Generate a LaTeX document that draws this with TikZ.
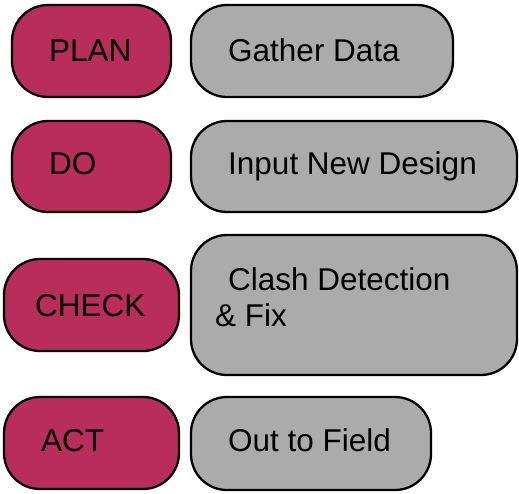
\documentclass[tikz,border=0pt]{standalone}
\usepackage{fontspec}
\setmainfont{Liberation Sans}
\definecolor{crim}{RGB}{184,45,91}
\definecolor{boxgray}{RGB}{171,171,171}
\tikzset{
  pill/.style={draw=black, line width=2.3pt, rounded corners=36pt, inner sep=0pt},
  phase/.style={pill, fill=crim},
  task/.style={pill, fill=boxgray},
  lbl/.style={anchor=base west, inner sep=0pt, font=\fontsize{31.5}{36}\selectfont, text=black}
}
\begin{document}
\begin{tikzpicture}[x=1pt,y=-1pt]
\useasboundingbox (0,0) rectangle (519,493);
% phase boxes
\node[phase, minimum width=159pt, minimum height=92pt] (plan) at (91.5,51) {};
\node[phase, minimum width=159pt, minimum height=91pt] (do) at (91.5,166.5) {};
\node[phase, minimum width=175pt, minimum height=92pt] (check) at (91.5,305) {};
\node[phase, minimum width=175pt, minimum height=92pt] (act) at (91.5,443) {};
% task boxes
\node[task, minimum width=262pt, minimum height=92pt] (gather) at (322,51) {};
\node[task, minimum width=326pt, minimum height=91pt] (input) at (354,166.5) {};
\node[task, minimum width=326pt, minimum height=140pt] (clash) at (354,305) {};
\node[task, minimum width=240pt, minimum height=93pt] (out) at (311,443.5) {};
% labels
\node[lbl] (tplan) at (49,61) {PLAN};
\node[lbl] (tdo) at (49,174) {DO};
\node[lbl] (tcheck) at (35,316) {CHECK};
\node[lbl] (tact) at (41,451) {ACT};
\node[lbl] (tgather) at (228,61) {Gather Data};
\node[lbl] (tinput) at (228,174) {Input New Design};
\node[lbl] (tclash1) at (228,290) {Clash Detection};
\node[lbl] (tclash2) at (215,326) {\& Fix};
\node[lbl] (tout) at (228,451) {Out to Field};
\end{tikzpicture}
\end{document}
